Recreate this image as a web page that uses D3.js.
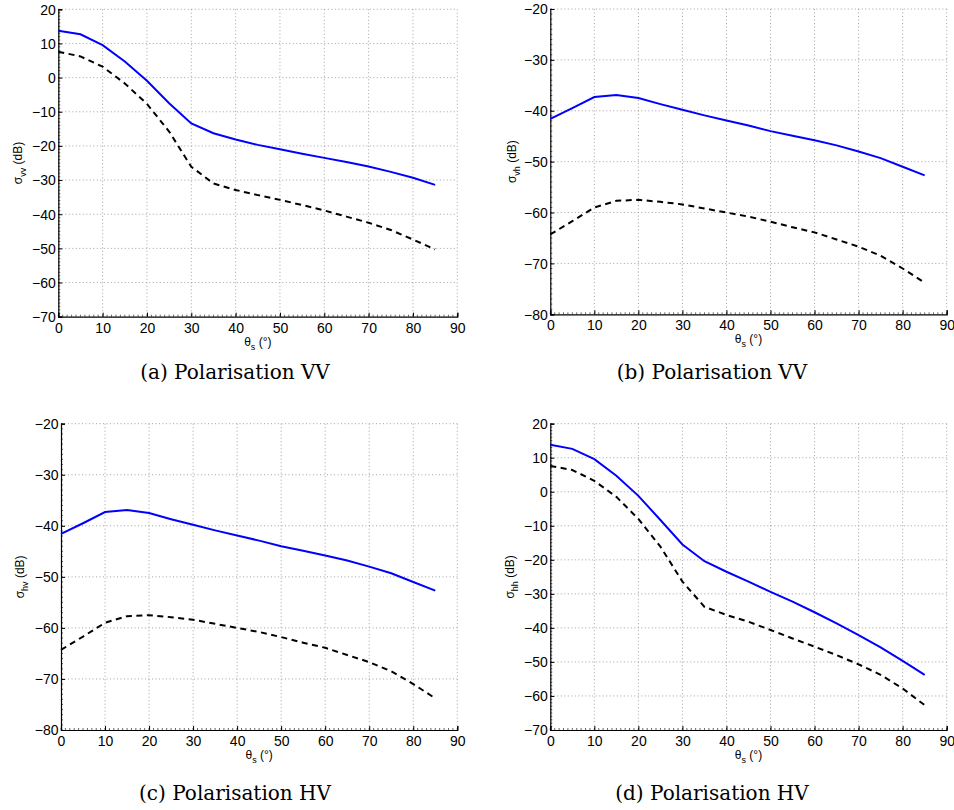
<!DOCTYPE html>
<html><head><meta charset="utf-8">
<script src="https://cdn.jsdelivr.net/npm/d3@7"></script>
<style>body{margin:0;background:#fff}svg{display:block}
.tk text{font-family:'Liberation Sans',Arimo,Arial,sans-serif !important;font-size:14px !important;fill:#000}
</style>
</head><body>
<svg id="c" width="954" height="810"></svg>
<script>
const angles = [0,5,10,15,20,25,30,35,40,45,50,55,60,65,70,75,80,85];
const vvSolid = [13.7,12.7,9.5,4.7,-0.9,-7.5,-13.4,-16.3,-18.1,-19.7,-21,-22.3,-23.5,-24.7,-26,-27.6,-29.3,-31.4];
const vvDash  = [7.6,6.2,3.2,-1.7,-7.7,-15.8,-26.1,-31,-32.9,-34.4,-35.8,-37.3,-38.9,-40.7,-42.5,-44.6,-47.4,-50.3];
const vhSolid = [-41.6,-39.5,-37.3,-36.9,-37.5,-38.7,-39.8,-40.9,-41.9,-42.9,-44,-44.9,-45.8,-46.8,-48,-49.3,-51,-52.7];
const vhDash  = [-64.3,-61.7,-59,-57.7,-57.5,-57.9,-58.4,-59.2,-60,-60.8,-61.8,-62.9,-63.9,-65.3,-66.7,-68.5,-71,-73.8];
const hvSolid = vhSolid.slice();
const hvDash  = vhDash.slice();
const hhSolid = [13.8,12.6,9.6,4.7,-1.2,-8.3,-15.5,-20.4,-23.5,-26.4,-29.4,-32.3,-35.4,-38.7,-42.1,-45.7,-49.7,-53.8];
const hhDash  = [7.6,6.4,3.2,-1.5,-8,-16.1,-26.4,-33.8,-36.2,-38.2,-40.6,-43.1,-45.5,-48,-50.7,-53.8,-57.8,-62.7];
const xTicks = [0,10,20,30,40,50,60,70,80,90];
const yTicksA = [-70,-60,-50,-40,-30,-20,-10,0,10,20];
const yTicksB = [-80,-70,-60,-50,-40,-30,-20];
const captions = ["(a) Polarisation VV","(b) Polarisation VV","(c) Polarisation HV","(d) Polarisation HV"];
const subs = ["vv","vh","hv","hh"];

const panels = [
  {x0:58.3, x1:457.3, y0:9.3, y1:316.7, dom:[-70,20], yt:yTicksA, s:vvSolid, d:vvDash, sub:subs[0], cap:captions[0], lx:18, cx:235, capY:379},
  {x0:550.3, x1:946.7, y0:9, y1:314.3, dom:[-80,-20], yt:yTicksB, s:vhSolid, d:vhDash, sub:subs[1], cap:captions[1], lx:512, cx:712, capY:379},
  {x0:61, x1:457.3, y0:423.7, y1:730, dom:[-80,-20], yt:yTicksB, s:hvSolid, d:hvDash, sub:subs[2], cap:captions[2], lx:20, cx:235, capY:800},
  {x0:550.3, x1:946.7, y0:423.7, y1:730, dom:[-70,20], yt:yTicksA, s:hhSolid, d:hhDash, sub:subs[3], cap:captions[3], lx:510, cx:712, capY:800}
];

const svg = d3.select("#c");
const tickFont = "'Liberation Sans', Arimo, Arial, sans-serif";

panels.forEach(p => {
  const x = d3.scaleLinear().domain([0,90]).range([p.x0,p.x1]);
  const y = d3.scaleLinear().domain(p.dom).range([p.y1,p.y0]);
  const g = svg.append("g");

  // grid
  g.selectAll(".gx").data(xTicks.filter(t=>t>0)).join("line")
    .attr("x1",d=>x(d)).attr("x2",d=>x(d)).attr("y1",p.y0).attr("y2",p.y1)
    .attr("stroke","#8a8a8a").attr("stroke-width",0.8).attr("stroke-dasharray","1,2.5");
  g.selectAll(".gy").data(p.yt.filter(t=>t>p.dom[0])).join("line")
    .attr("x1",p.x0).attr("x2",p.x1).attr("y1",d=>y(d)).attr("y2",d=>y(d))
    .attr("stroke","#8a8a8a").attr("stroke-width",0.8).attr("stroke-dasharray","1,2.5");

  // axes
  const xa = g.append("g").attr("class","tk").attr("transform",`translate(0,${p.y1})`)
    .call(d3.axisBottom(x).tickValues(xTicks).tickSize(-4).tickPadding(6).tickFormat(d3.format("d")));
  const ya = g.append("g").attr("class","tk").attr("transform",`translate(${p.x0},0)`)
    .call(d3.axisLeft(y).tickValues(p.yt).tickSize(-4).tickPadding(2.5).tickFormat(d3.format("d")));
  [xa,ya].forEach(a=>{
    a.attr("font-size",null).attr("font-family",null);
    a.select(".domain").attr("stroke","#000").attr("stroke-width",1.2);
    a.selectAll(".tick line").attr("stroke","#000");
  });
  ya.selectAll("text").attr("dy","0.35em");
  // minor ticks
  g.selectAll(".mx").data(d3.range(0,91,1)).join("line")
    .attr("x1",d=>x(d)).attr("x2",d=>x(d)).attr("y1",p.y1).attr("y2",p.y1-2)
    .attr("stroke","#000").attr("stroke-width",0.6);
  g.selectAll(".my").data(d3.range(p.dom[0],p.dom[1]+1,1)).join("line")
    .attr("x1",p.x0).attr("x2",p.x0+2).attr("y1",d=>y(d)).attr("y2",d=>y(d))
    .attr("stroke","#000").attr("stroke-width",0.6);

  // lines
  const line = d3.line().x((d,i)=>x(angles[i])).y(d=>y(d));
  g.append("path").attr("d",line(p.d)).attr("fill","none").attr("stroke","#000")
    .attr("stroke-width",2).attr("stroke-dasharray","6,4.5");
  g.append("path").attr("d",line(p.s)).attr("fill","none").attr("stroke","#0000ff")
    .attr("stroke-width",2);

  // x label
  const xl = g.append("text").attr("x",(p.x0+p.x1)/2).attr("y",p.y1+29)
    .attr("text-anchor","middle").style("font-family",tickFont).style("font-size","12px");
  xl.append("tspan").text("\u03b8");
  xl.append("tspan").style("font-size","9px").attr("dy",4).text("s");
  xl.append("tspan").attr("dy",-4).text(" (\u00b0)");

  // y label
  const ymid = (p.y0+p.y1)/2;
  const yl = g.append("text").attr("transform",`translate(${p.lx},${ymid}) rotate(-90)`)
    .attr("text-anchor","middle").attr("dy","0.35em").style("font-family",tickFont).style("font-size","12px");
  yl.append("tspan").text("\u03c3");
  yl.append("tspan").style("font-size","9px").attr("dy",4).text(p.sub);
  yl.append("tspan").attr("dy",-4).text(" (dB)");

  // caption
  svg.append("text").attr("x",p.cx).attr("y",p.capY).attr("text-anchor","middle")
    .style("font-family","'DejaVu Serif', serif").style("font-size","20px").attr("fill","#000").text(p.cap);
});
</script>
</body></html>
